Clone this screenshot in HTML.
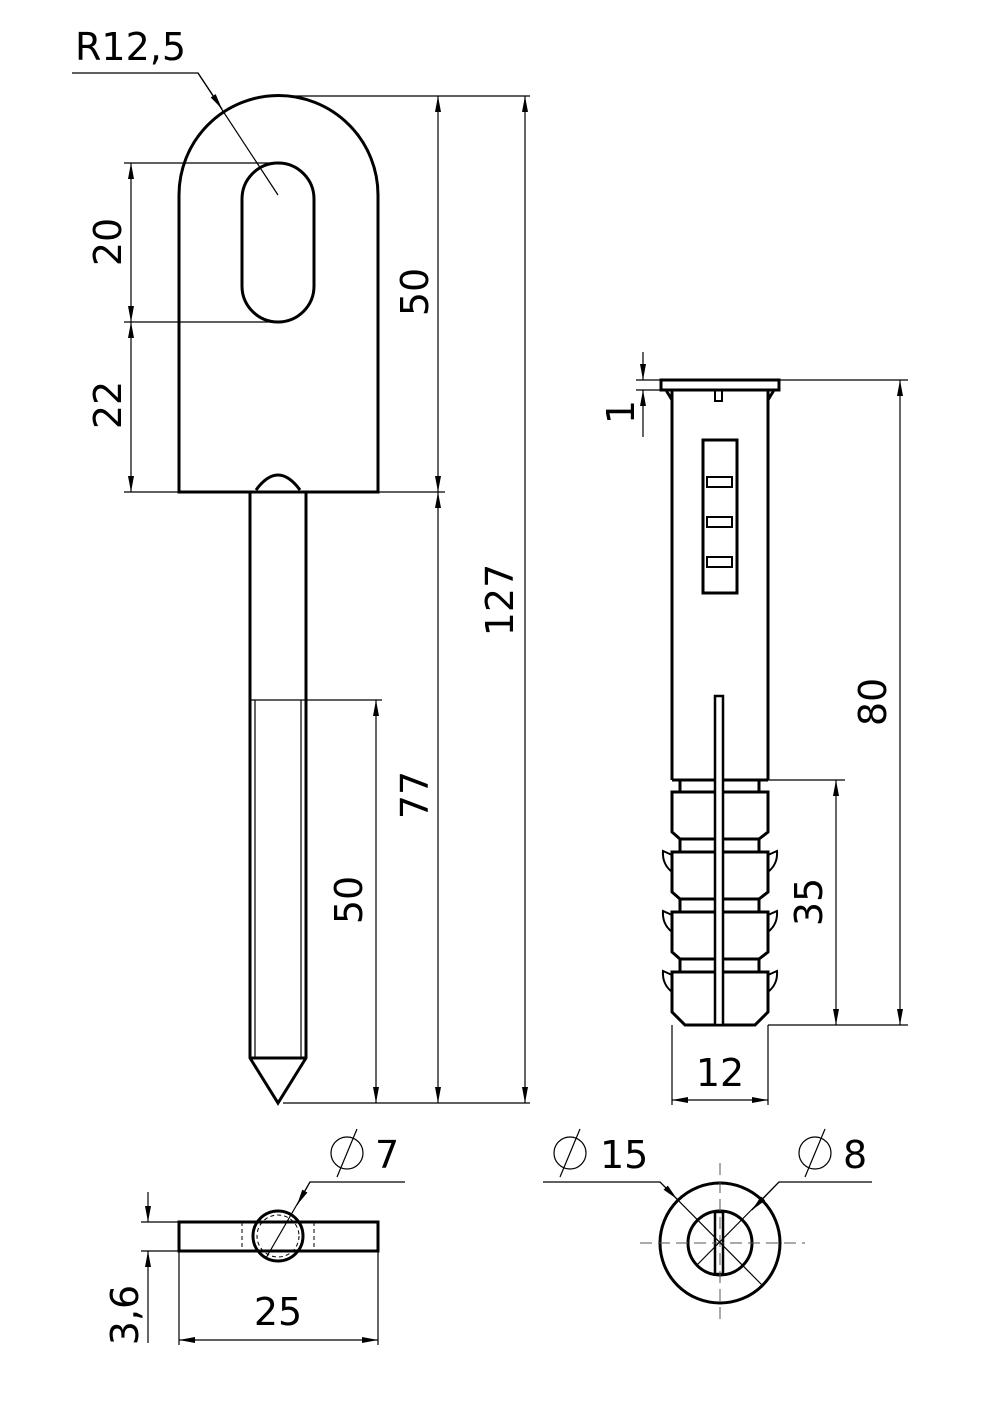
<!DOCTYPE html>
<html><head><meta charset="utf-8"><style>
html,body{margin:0;padding:0;background:#fff}
svg{display:block}
text{font-family:"DejaVu Sans","Liberation Sans",sans-serif;font-size:38px;fill:#000}
</style></head><body>
<svg width="1000" height="1413" viewBox="0 0 1000 1413" xmlns="http://www.w3.org/2000/svg">
<defs>
<marker id="a" viewBox="0 0 16 6" refX="16" refY="3" markerWidth="16" markerHeight="6" markerUnits="userSpaceOnUse" orient="auto-start-reverse"><path d="M0,0 L16,3 L0,6 z" fill="#000"/></marker>
</defs>
<g fill="none" stroke="#000" stroke-width="3">
<!-- head -->
<path d="M179,492 L179,195 A99.5,99.5 0 0 1 378,195 L378,492 Z"/>
<path d="M242,199 A36,36 0 0 1 314,199 L314,286 A36,36 0 0 1 242,286 Z"/>
<path d="M256,490 Q278,460 300,490"/>
<!-- pin -->
<path d="M250,492 L250,1058 L278,1103 L306,1058 L306,492"/>
<line x1="250" y1="1058" x2="306" y2="1058"/>
</g>
<g fill="none" stroke="#000" stroke-width="1.2">
<line x1="255" y1="700" x2="255" y2="1058"/>
<line x1="301" y1="700" x2="301" y2="1058"/>
<line x1="250" y1="700" x2="382" y2="700"/>
<!-- ext lines -->
<line x1="124" y1="163" x2="280" y2="163"/>
<line x1="124" y1="322" x2="280" y2="322"/>
<line x1="124" y1="492" x2="179" y2="492"/>
<line x1="378" y1="492" x2="445" y2="492"/>
<line x1="278" y1="96" x2="530" y2="96"/>
<line x1="283" y1="1103" x2="530" y2="1103"/>
<!-- dims -->
<line x1="131" y1="163" x2="131" y2="322" marker-start="url(#a)" marker-end="url(#a)"/>
<line x1="131" y1="322" x2="131" y2="492" marker-start="url(#a)" marker-end="url(#a)"/>
<line x1="438" y1="96" x2="438" y2="492" marker-start="url(#a)" marker-end="url(#a)"/>
<line x1="438" y1="492" x2="438" y2="1103" marker-start="url(#a)" marker-end="url(#a)"/>
<line x1="525" y1="96" x2="525" y2="1103" marker-start="url(#a)" marker-end="url(#a)"/>
<line x1="376" y1="700" x2="376" y2="1103" marker-start="url(#a)" marker-end="url(#a)"/>
<!-- R leader -->
<polyline points="72,73 198,73 278,195"/>
<line x1="198" y1="73" x2="222" y2="109" marker-end="url(#a)"/>
</g>
<text x="75" y="60">R12,5</text>
<text transform="translate(121,242) rotate(-90)" text-anchor="middle">20</text>
<text transform="translate(121,405) rotate(-90)" text-anchor="middle">22</text>
<text transform="translate(428,292) rotate(-90)" text-anchor="middle">50</text>
<text transform="translate(513,600) rotate(-90)" text-anchor="middle">127</text>
<text transform="translate(428,795) rotate(-90)" text-anchor="middle">77</text>
<text transform="translate(362,900) rotate(-90)" text-anchor="middle">50</text>

<!-- plug -->
<g fill="none" stroke="#000" stroke-width="3">
<rect x="661" y="380" width="118" height="10"/>
<path d="M672,390 L672,780 M768,390 L768,780 M672,780 L768,780"/>
<path d="M666,390 L672,400 M774,390 L768,400"/>
<rect x="715" y="390" width="7" height="11" stroke-width="2"/>
<rect x="703" y="440" width="34" height="153"/>
<rect x="707" y="477" width="25" height="10" stroke-width="2"/>
<rect x="707" y="517" width="25" height="10" stroke-width="2"/>
<rect x="707" y="557" width="25" height="10" stroke-width="2"/>
<path d="M680,780 L680,792 M759,780 L759,792"/>
<path d="M672,792 L768,792 L768,832 L759,839 L680,839 L672,832 Z"/>
<path d="M680,839 L680,852 M759,839 L759,852"/>
<path d="M672,852 L768,852 L768,892 L759,899 L680,899 L672,892 Z"/>
<path d="M680,899 L680,912 M759,899 L759,912"/>
<path d="M672,912 L768,912 L768,952 L759,959 L680,959 L672,952 Z"/>
<path d="M680,959 L680,972 M759,959 L759,972"/>
<path d="M672,972 L768,972 L768,1012 L755,1025 L685,1025 L672,1012 Z"/>
<g stroke-width="2">
<path d="M672,855 L663,851 Q662,864 672,872"/>
<path d="M768,855 L777,851 Q778,864 768,872"/>
<path d="M672,915 L663,911 Q662,924 672,932"/>
<path d="M768,915 L777,911 Q778,924 768,932"/>
<path d="M672,975 L663,971 Q662,984 672,992"/>
<path d="M768,975 L777,971 Q778,984 768,992"/>
</g>
<rect x="715" y="696" width="8" height="329" fill="#fff" stroke-width="2.5"/>
</g>
<g fill="none" stroke="#000" stroke-width="1.2">
<line x1="636" y1="380" x2="661" y2="380"/>
<line x1="636" y1="390" x2="661" y2="390"/>
<line x1="643" y1="352" x2="643" y2="380" marker-end="url(#a)"/>
<line x1="643" y1="437" x2="643" y2="390" marker-end="url(#a)"/>
<line x1="779" y1="380" x2="908" y2="380"/>
<line x1="768" y1="780" x2="845" y2="780"/>
<line x1="768" y1="1025" x2="908" y2="1025"/>
<line x1="900" y1="380" x2="900" y2="1025" marker-start="url(#a)" marker-end="url(#a)"/>
<line x1="836" y1="780" x2="836" y2="1025" marker-start="url(#a)" marker-end="url(#a)"/>
<line x1="672" y1="1025" x2="672" y2="1105"/>
<line x1="768" y1="1025" x2="768" y2="1105"/>
<line x1="672" y1="1100" x2="768" y2="1100" marker-start="url(#a)" marker-end="url(#a)"/>
</g>
<text transform="translate(634,412) rotate(-90)" text-anchor="middle">1</text>
<text transform="translate(886,702) rotate(-90)" text-anchor="middle">80</text>
<text transform="translate(822,902) rotate(-90)" text-anchor="middle">35</text>
<text x="720" y="1086" text-anchor="middle">12</text>

<!-- bottom left view -->
<g fill="none" stroke="#000">
<rect x="179" y="1222" width="199" height="29" stroke-width="3"/>
<circle cx="278" cy="1236" r="25" stroke-width="3"/>
<circle cx="278" cy="1236" r="21" stroke-width="1" stroke-dasharray="4,3"/>
<line x1="242" y1="1222" x2="242" y2="1251" stroke-width="1" stroke-dasharray="4,3"/>
<line x1="314" y1="1222" x2="314" y2="1251" stroke-width="1" stroke-dasharray="4,3"/>
<g stroke-width="1.2">
<line x1="141" y1="1222" x2="179" y2="1222"/>
<line x1="141" y1="1251" x2="179" y2="1251"/>
<line x1="148" y1="1192" x2="148" y2="1222" marker-end="url(#a)"/>
<line x1="148" y1="1343" x2="148" y2="1251" marker-end="url(#a)"/>
<line x1="179" y1="1251" x2="179" y2="1345"/>
<line x1="378" y1="1251" x2="378" y2="1345"/>
<line x1="179" y1="1340" x2="378" y2="1340" marker-start="url(#a)" marker-end="url(#a)"/>
<polyline points="405,1182 310,1182 266,1258"/>
<line x1="310" y1="1182" x2="297" y2="1205" marker-end="url(#a)"/>
<circle cx="347" cy="1153" r="16"/>
<line x1="337" y1="1177" x2="357" y2="1129"/>
</g>
</g>
<text x="375" y="1168">7</text>
<text x="278" y="1325" text-anchor="middle">25</text>
<text transform="translate(138,1315) rotate(-90)" text-anchor="middle">3,6</text>

<!-- bottom right view -->
<g fill="none" stroke="#000">
<circle cx="720" cy="1243" r="60" stroke-width="3"/>
<circle cx="720" cy="1243" r="32" stroke-width="3"/>
<rect x="715" y="1212" width="8" height="62" stroke-width="2.5"/>
<line x1="720" y1="1163" x2="720" y2="1320" stroke-width="1" stroke="#555" stroke-dasharray="12,6"/>
<line x1="640" y1="1243" x2="805" y2="1243" stroke-width="1" stroke="#555" stroke-dasharray="12,6"/>
<g stroke-width="1.2">
<polyline points="543,1182 660,1182 762,1285"/>
<line x1="660" y1="1182" x2="677" y2="1199" marker-end="url(#a)"/>
<polyline points="872,1182 779,1182 697,1265"/>
<line x1="779" y1="1182" x2="752" y2="1210" marker-end="url(#a)"/>
<circle cx="570" cy="1153" r="16"/>
<line x1="560" y1="1177" x2="580" y2="1129"/>
<circle cx="815" cy="1153" r="16"/>
<line x1="805" y1="1177" x2="825" y2="1129"/>
</g>
</g>
<text x="600" y="1168">15</text>
<text x="843" y="1168">8</text>
</svg>
</body></html>
